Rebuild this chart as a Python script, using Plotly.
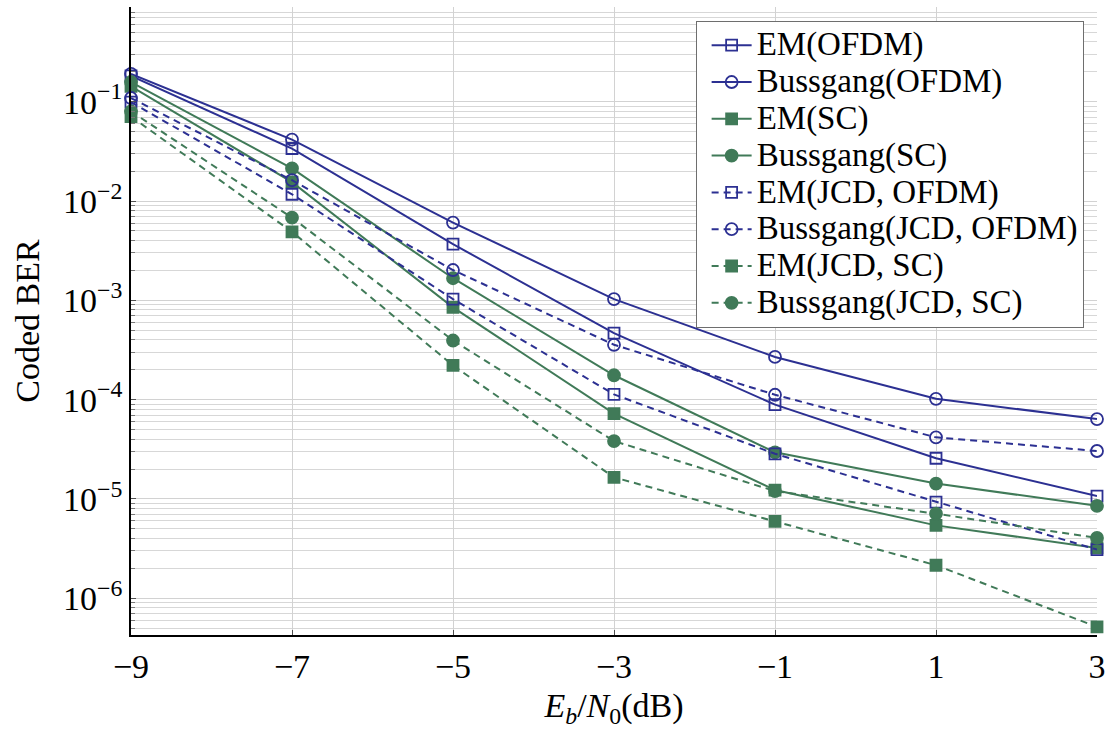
import numpy as np
import plotly.graph_objects as go

ebn0 = [-9, -7, -5, -3, -1, 1, 3]

em_ofdm = [0.182, 0.0338, 0.00368, 0.000468, 8.9e-5, 2.57e-5, 1.07e-5]
bussgang_ofdm = [0.191, 0.0416, 0.00607, 0.00103, 0.000269, 0.000102, 6.37e-5]
em_sc = [0.143, 0.0155, 0.00085, 7.24e-5, 1.23e-5, 5.42e-6, 3.21e-6]
bussgang_sc = [0.158, 0.0213, 0.00167, 0.000176, 2.95e-5, 1.43e-5, 8.53e-6]
em_jcd_ofdm = [0.099, 0.0117, 0.00103, 0.000113, 2.85e-5, 9.3e-6, 3.09e-6]
bussgang_jcd_ofdm = [0.109, 0.0162, 0.00202, 0.000357, 0.000112, 4.17e-5, 3.04e-5]
em_jcd_sc = [0.071, 0.0049, 0.000221, 1.65e-5, 5.94e-6, 2.15e-6, 5.14e-7]
bussgang_jcd_sc = [0.080, 0.0068, 0.000394, 3.83e-5, 1.2e-5, 7.1e-6, 4.05e-6]

x_ticks = [-9, -7, -5, -3, -1, 1, 3]
x_tick_text = ["−9", "−7", "−5", "−3", "−1", "1", "3"]
y_tick_vals = [1e-1, 1e-2, 1e-3, 1e-4, 1e-5, 1e-6]
y_tick_text = ["10<sup>−1</sup>", "10<sup>−2</sup>", "10<sup>−3</sup>",
               "10<sup>−4</sup>", "10<sup>−5</sup>", "10<sup>−6</sup>"]

BLUE = "rgb(44,48,146)"
GREEN = "rgb(64,122,88)"
SERIF = "Times New Roman, Liberation Serif, serif"

series = [
    ("EM(OFDM)", em_ofdm, BLUE, "solid", "square-open"),
    ("Bussgang(OFDM)", bussgang_ofdm, BLUE, "solid", "circle-open"),
    ("EM(SC)", em_sc, GREEN, "solid", "square"),
    ("Bussgang(SC)", bussgang_sc, GREEN, "solid", "circle"),
    ("EM(JCD, OFDM)", em_jcd_ofdm, BLUE, "7px,5px", "square-open"),
    ("Bussgang(JCD, OFDM)", bussgang_jcd_ofdm, BLUE, "7px,5px", "circle-open"),
    ("EM(JCD, SC)", em_jcd_sc, GREEN, "7px,5px", "square"),
    ("Bussgang(JCD, SC)", bussgang_jcd_sc, GREEN, "7px,5px", "circle"),
]

fig = go.Figure()
for name, vals, col, dash, sym in series:
    fig.add_trace(go.Scatter(
        x=ebn0, y=vals, mode="lines+markers",
        name='<span style="font-size:33px">' + name + "</span>",
        line=dict(color=col, width=2, dash=dash),
        marker=dict(symbol=sym, size=12 if "circle" in sym else 11, color=col,
                    line=dict(color=col, width=1.8)),
        cliponaxis=False,
    ))

fig.update_layout(
    width=1113, height=729,
    margin=dict(l=131, r=12, t=7, b=92),
    paper_bgcolor="white", plot_bgcolor="white",
    font=dict(family=SERIF, size=34, color="black"),
    showlegend=True,
    legend=dict(
        x=0.5845, y=0.978, xanchor="left", yanchor="top",
        bgcolor="white", bordercolor="rgb(110,110,110)", borderwidth=1,
        font=dict(family=SERIF, size=26, color="black"),
        tracegroupgap=0, itemwidth=40, indentation=10,
    ),
    xaxis=dict(
        range=[-9, 3], tickvals=x_ticks, ticktext=x_tick_text,
        showgrid=True, gridcolor="rgb(210,210,210)", gridwidth=1,
        showline=True, linecolor="black", linewidth=1.5,
        ticks="inside", ticklen=5, tickcolor="rgb(80,80,80)",
        zeroline=False, mirror=False,
        tickfont=dict(family=SERIF, size=34),
        title=dict(text="<i>E<sub>b</sub></i>/<i>N</i><sub>0</sub>(dB)",
                   font=dict(family=SERIF, size=34), standoff=14),
    ),
    yaxis=dict(
        type="log", range=[-6.37, -0.046],
        tickvals=y_tick_vals, ticktext=y_tick_text,
        showgrid=True, gridcolor="rgb(210,210,210)", gridwidth=1,
        showline=True, linecolor="black", linewidth=1.5,
        ticks="inside", ticklen=5, tickcolor="rgb(80,80,80)",
        zeroline=False,
        tickfont=dict(family=SERIF, size=34),
        minor=dict(dtick="D1", showgrid=True, gridcolor="rgb(215,215,215)",
                   gridwidth=1, ticks="inside", ticklen=4, tickcolor="rgb(120,120,120)"),
        title=dict(text="Coded BER", font=dict(family=SERIF, size=34), standoff=13),
    ),
)

fig.write_html("out.html")
